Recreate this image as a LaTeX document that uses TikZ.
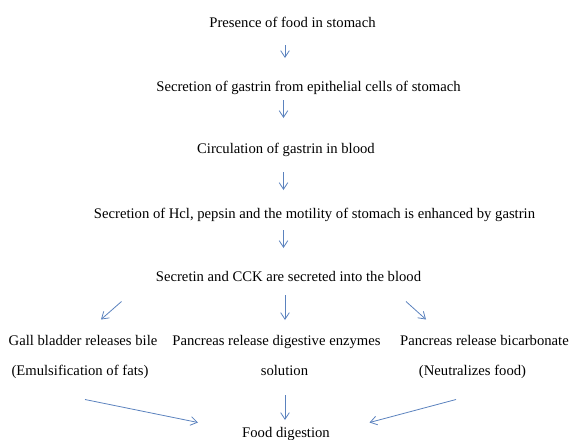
\documentclass[tikz,border=0pt]{standalone}
\usepackage{fontspec}
\setmainfont{Liberation Serif}
\usepackage{tikz}
\usetikzlibrary{arrows.meta}

\begin{document}
\begin{tikzpicture}[x=0.75pt,y=0.75pt,yscale=-1,
  txt/.style={font=\fontsize{11}{13}\selectfont, inner sep=0.75pt, anchor=base},
  flow/.style={color={rgb, 255:red, 91; green, 130; blue, 190 }, line width=0.6pt,
    -{Straight Barb[length=5pt,width=6.5pt]}}]

\useasboundingbox (0,0) rectangle (576,440);

% Text Node
\node [txt] (food)    at (292.5,27)  {Presence of food in stomach};
% Text Node
\node [txt] (gastrin) at (308.5,91)  {Secretion of gastrin from epithelial cells of stomach};
% Text Node
\node [txt] (circ)    at (286,153)   {Circulation of gastrin in blood};
% Text Node
\node [txt] (hcl)     at (314.5,218) {Secretion of Hcl, pepsin and the motility of stomach is enhanced by gastrin};
% Text Node
\node [txt] (cck)     at (288.5,281) {Secretin and CCK are secreted into the blood};
% Text Node
\node [txt] (bile)    at (83,345)    {Gall bladder releases bile};
% Text Node
\node [txt] (enz)     at (276.5,345) {Pancreas release digestive enzymes};
% Text Node
\node [txt] (bicarb)  at (484.5,345) {Pancreas release bicarbonate};
% Text Node
\node [txt] (emul)    at (80,375)    {(Emulsification of fats)};
% Text Node
\node [txt] (sol)     at (284.5,375) {solution};
% Text Node
\node [txt] (neut)    at (472.5,375) {(Neutralizes food)};
% Text Node
\node [txt] (dig)     at (286,437)   {Food digestion};

% arrow ends
\coordinate (s1) at (285,45);   \coordinate (e1) at (285,58);
\coordinate (s2) at (283.5,100); \coordinate (e2) at (283.5,118);
\coordinate (s3) at (283.5,172); \coordinate (e3) at (283.5,190);
\coordinate (s4) at (283.5,230); \coordinate (e4) at (283.5,248);
\coordinate (s5) at (121.5,301.5); \coordinate (e5) at (101,319.5);
\coordinate (s6) at (285,295);  \coordinate (e6) at (285,320);
\coordinate (s7) at (406,301.5); \coordinate (e7) at (426,319.5);
\coordinate (s8) at (85,399.5); \coordinate (e8) at (198,422.5);
\coordinate (s9) at (285,395);  \coordinate (e9) at (285,420);
\coordinate (s10) at (456,399.5); \coordinate (e10) at (369.5,422.5);

%Straight Lines
\draw [flow] (s1) -- (e1);
\draw [flow] (s2) -- (e2);
\draw [flow] (s3) -- (e3);
\draw [flow] (s4) -- (e4);
%Straight Lines
\draw [flow] (s5) -- (e5);
\draw [flow] (s6) -- (e6);
\draw [flow] (s7) -- (e7);
%Straight Lines
\draw [flow] (s8) -- (e8);
\draw [flow] (s9) -- (e9);
\draw [flow] (s10) -- (e10);

\end{tikzpicture}
\end{document}
